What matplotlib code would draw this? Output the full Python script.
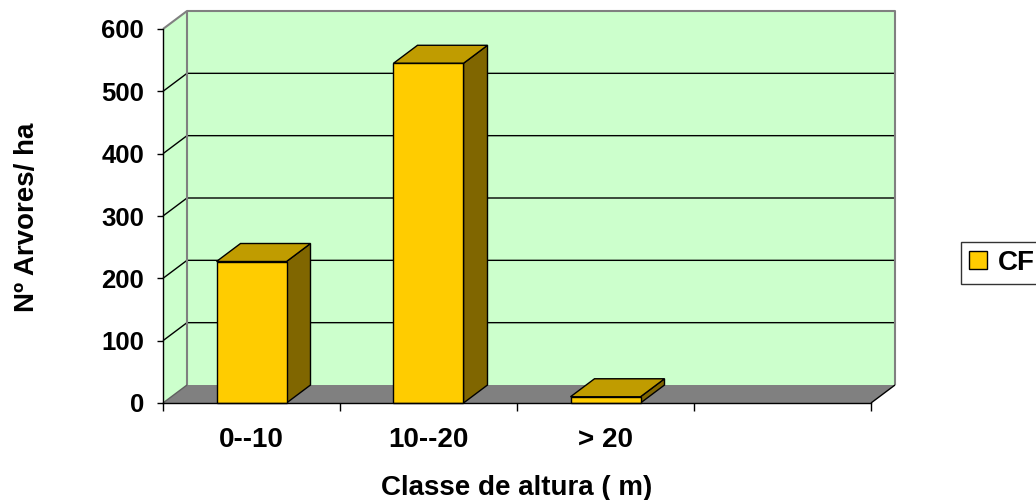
import matplotlib
matplotlib.use("Agg")
import matplotlib.pyplot as plt
from matplotlib.patches import Polygon, Patch

plt.rcParams['font.family'] = ['Liberation Sans', 'DejaVu Sans']
plt.rcParams['font.weight'] = 'bold'

# ---- data ----
categories = ["0--10", "10--20", "> 20", ""]
values = [227, 545, 10]
series_name = "CF"
y_ticks = [0, 100, 200, 300, 400, 500, 600]
y_label = "Nº Arvores/ ha"
x_label = "Classe de altura ( m)"

# ---- style ----
wall_col = "#CCFFCC"
floor_col = "#808080"
front_col = "#FFCC00"
top_col = "#C09C00"
side_col = "#806600"
fs_num = 18.5
fs = 20

fig = plt.figure(figsize=(10.36, 5.0), dpi=100)
ax = fig.add_axes([163/1036, 97/500, 708/1036, 374/500])
n = len(categories)
ymax = 600
ax.set_xlim(0, n)
ax.set_ylim(0, ymax)
ax.set_facecolor("none")

# depth offsets in data units
dx = 24/177.0
dy = 18/(374/600)

def poly(pts, fc, ec="none", lw=1.0, z=1):
    p = Polygon(pts, closed=True, facecolor=fc, edgecolor=ec, linewidth=lw,
                clip_on=False, zorder=z, joinstyle='miter')
    ax.add_patch(p)

def line(xs, ys, c, lw=1.0, z=2):
    ax.plot(xs, ys, color=c, lw=lw, clip_on=False, zorder=z, solid_capstyle='butt')

# walls
poly([(0, 0), (dx, dy), (dx, ymax+dy), (0, ymax)], wall_col, z=1)
poly([(dx, dy), (n+dx, dy), (n+dx, ymax+dy), (dx, ymax+dy)], wall_col, z=1)
# gridlines
for v in y_ticks[1:-1]:
    line([0, dx, n+dx], [v, v+dy, v+dy], "black", 1.0, z=2)
# floor
poly([(0, 0), (n, 0), (n+dx, dy), (dx, dy)], floor_col, z=3)
# wall borders
line([0, dx, n+dx, n+dx], [ymax, ymax+dy, ymax+dy, dy], "#808080", 1.5, z=4)
line([dx, dx], [dy, ymax+dy], "#808080", 1.5, z=4)
line([0, dx], [0, dy], "#606060", 1.0, z=4)
line([n, n+dx], [0, dy], "black", 1.0, z=4)

# bars
w = 70/177.0
for i, v in enumerate(values):
    c = i + 0.5
    x0, x1 = c - w/2, c + w/2
    poly([(x1, 0), (x1+dx, dy), (x1+dx, v+dy), (x1, v)], side_col, "black", 1.0, z=5)
    poly([(x0, v), (x1, v), (x1+dx, v+dy), (x0+dx, v+dy)], top_col, "black", 1.0, z=5)
    poly([(x0, 0), (x1, 0), (x1, v), (x0, v)], front_col, "black", 1.0, z=6)

# axes
for s in ["top", "right"]:
    ax.spines[s].set_visible(False)
ax.spines["left"].set_linewidth(1.0)
ax.spines["bottom"].set_linewidth(1.0)
ax.spines["left"].set_zorder(7)
ax.spines["bottom"].set_zorder(7)
ax.set_yticks(y_ticks)
ax.set_yticklabels([str(t) for t in y_ticks], fontsize=fs_num, fontweight='bold')
ax.tick_params(axis='y', direction='out', length=4.5, width=1.0, pad=9)
ax.set_xticks(range(n+1))
ax.set_xticklabels([""]*(n+1))
ax.tick_params(axis='x', which='major', direction='out', length=6, width=1.0)
ax.set_xticks([i+0.5 for i in range(n)], minor=True)
ax.set_xticklabels(categories, minor=True, fontsize=fs, fontweight='bold')
ax.tick_params(axis='x', which='minor', length=0, pad=17)

fig.text(27/1036, 1-217/500, y_label, rotation=90, ha='center', va='center',
         fontsize=fs, fontweight='bold')
fig.text(517/1036, 1-488/500, x_label, ha='center', va='center',
         fontsize=fs, fontweight='bold')

# legend
handle = Patch(facecolor=front_col, edgecolor='black', linewidth=1.0)
leg = fig.legend([handle], [series_name], loc='center left',
                 bbox_to_anchor=(961/1036, 1-263/500), frameon=True, fancybox=False,
                 prop={'size': fs, 'weight': 'bold'}, handlelength=0.62, handleheight=0.62,
                 handletextpad=0.4, borderpad=0.3, borderaxespad=0)
leg.get_frame().set_edgecolor('black')
leg.get_frame().set_linewidth(1.0)

fig.savefig("out.png", dpi=100)
